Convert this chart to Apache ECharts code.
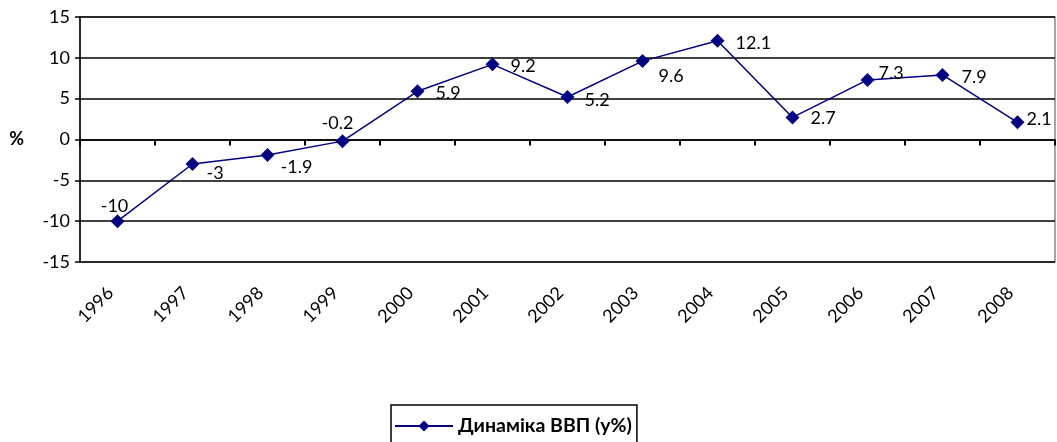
<!DOCTYPE html>
<html>
<head>
<meta charset="utf-8">
<script src="https://cdn.jsdelivr.net/npm/echarts@6/dist/echarts.min.js"></script>
<style>html,body{margin:0;padding:0;background:#fff;}#c{width:1057px;height:442px;}</style>
</head>
<body>
<div id="c"></div>
<script>
const years = ['1996','1997','1998','1999','2000','2001','2002','2003','2004','2005','2006','2007','2008'];
const gdpGrowth = [-10, -3, -1.9, -0.2, 5.9, 9.2, 5.2, 9.6, 12.1, 2.7, 7.3, 7.9, 2.1];
const seriesName = 'Динаміка ВВП (у%)';
const yTicks = {min: -15, max: 15, interval: 5};

// label placement relative to each marker (style only)
const labelStyle = [
  {align:'center', offset:[-3,-15]},
  {align:'left', offset:[14,9]},
  {align:'left', offset:[13,12]},
  {align:'center', offset:[-5,-18]},
  {align:'left', offset:[18,2]},
  {align:'left', offset:[18,2]},
  {align:'left', offset:[17,3]},
  {align:'left', offset:[16,15]},
  {align:'left', offset:[18,3]},
  {align:'left', offset:[18,1]},
  {align:'left', offset:[11,-7]},
  {align:'left', offset:[19,2]},
  {align:'left', offset:[9,-3]}
];

const FONT = 'Lato, "Open Sans", sans-serif';
const GRID_TOP = 17, GRID_BOTTOM = 180, H = 442, GRID_LEFT = 80, GRID_RIGHT = 2;
const plotH = H - GRID_TOP - GRID_BOTTOM;
// height of the part of the plot above the value 0 (where the category axis crosses)
const aboveZero = plotH * (yTicks.max - 0) / (yTicks.max - yTicks.min);

const chart = echarts.init(document.getElementById('c'));
chart.setOption({
  backgroundColor: '#fff',
  animation: false,
  grid: [
    {left: GRID_LEFT, right: GRID_RIGHT, top: GRID_TOP, bottom: GRID_BOTTOM, show: true,
     borderColor: '#888', borderWidth: 1.5, outerBoundsMode: 'none', containLabel: false},
    {left: GRID_LEFT, right: GRID_RIGHT, top: GRID_TOP, height: aboveZero, show: false,
     outerBoundsMode: 'none', containLabel: false}
  ],
  legend: {
    top: 405, left: 391,
    data: [seriesName],
    borderColor: '#000', borderWidth: 1.5, padding: [11, 5, 14, 3],
    itemWidth: 58, itemHeight: 14, itemGap: 6,
    textStyle: {fontFamily: FONT, fontSize: 19.5, fontWeight: 'bold', color: '#000'}
  },
  xAxis: [{
    gridIndex: 0, type: 'category', data: years, boundaryGap: true, position: 'bottom',
    axisLine: {show: false, onZero: false}, axisTick: {show: false},
    axisLabel: {rotate: 45, fontFamily: FONT, fontSize: 18, color: '#000',
      margin: 21, interval: 0, padding: [0, 10, 0, 0]}
  }, {
    gridIndex: 1, type: 'category', data: years, boundaryGap: true, position: 'bottom',
    axisLine: {show: true, onZero: false, lineStyle: {color: '#000', width: 1.5}},
    axisTick: {show: true, length: 6, inside: false, lineStyle: {color: '#000', width: 2}, interval: 0},
    axisLabel: {show: false}, splitLine: {show: false}
  }],
  yAxis: [{
    gridIndex: 0, type: 'value', min: yTicks.min, max: yTicks.max, interval: yTicks.interval,
    name: '%', nameLocation: 'middle', nameGap: 56, nameRotate: 0,
    nameTextStyle: {fontFamily: FONT, fontSize: 18, fontWeight: 'bold', color: '#000'},
    axisLine: {show: true, onZero: false, lineStyle: {color: '#000', width: 1.5}},
    axisTick: {show: true, length: 5, lineStyle: {color: '#000', width: 1.5}},
    splitLine: {show: true, lineStyle: {color: '#000', width: 1.5}},
    axisLabel: {fontFamily: FONT, fontSize: 18, color: '#000', margin: 10}
  }, {
    gridIndex: 1, type: 'value', min: 0, max: yTicks.max, show: false,
    axisLine: {show: false, onZero: false}, splitLine: {show: false}
  }],
  series: [{
    name: seriesName, type: 'line', xAxisIndex: 0, yAxisIndex: 0,
    data: gdpGrowth.map((v, i) => ({value: v, label: labelStyle[i]})),
    symbol: 'diamond', symbolSize: 14,
    itemStyle: {color: '#000080'},
    lineStyle: {color: '#000080', width: 1.5},
    label: {show: true, position: 'inside', fontFamily: FONT, fontSize: 18, color: '#000', verticalAlign: 'middle'},
    z: 5
  }]
});
</script>
</body>
</html>
